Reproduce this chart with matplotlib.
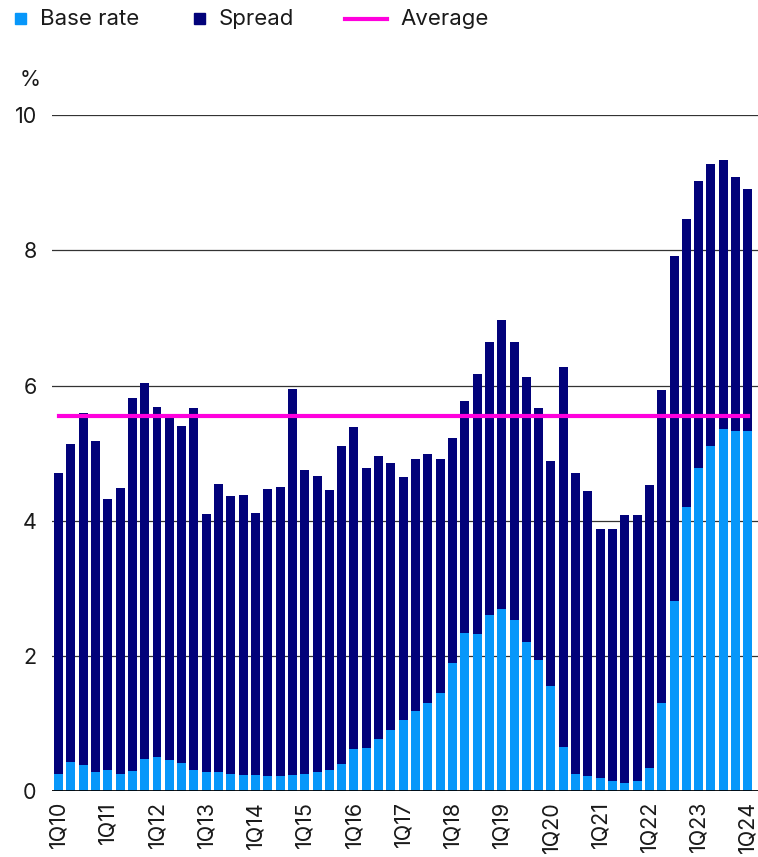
import numpy as np
import matplotlib
matplotlib.use("Agg")
import matplotlib.pyplot as plt
from matplotlib.patches import Rectangle
from matplotlib.lines import Line2D

plt.rcParams['font.family'] = ['Inter', 'DejaVu Sans']

# quarters 1Q10 .. 1Q24
quarters = [f"{q}Q{y:02d}" for y in range(10, 25) for q in range(1, 5)][:57]

base_rate = [0.26, 0.43, 0.39, 0.29, 0.32, 0.26, 0.30, 0.48, 0.51, 0.46,
             0.42, 0.32, 0.29, 0.29, 0.26, 0.24, 0.24, 0.23, 0.23, 0.24,
             0.26, 0.29, 0.32, 0.40, 0.63, 0.64, 0.77, 0.91, 1.05, 1.19,
             1.31, 1.45, 1.90, 2.34, 2.33, 2.61, 2.70, 2.53, 2.21, 1.94,
             1.56, 0.66, 0.25, 0.22, 0.20, 0.15, 0.12, 0.15, 0.34, 1.30,
             2.81, 4.21, 4.78, 5.11, 5.36, 5.33, 5.33]

spread = [4.44, 4.70, 5.20, 4.89, 4.00, 4.22, 5.51, 5.55, 5.17, 5.12,
          4.98, 5.35, 3.81, 4.25, 4.10, 4.14, 3.87, 4.24, 4.27, 5.71,
          4.49, 4.37, 4.13, 4.70, 4.75, 4.14, 4.19, 3.94, 3.60, 3.72,
          3.68, 3.46, 3.32, 3.43, 3.84, 4.03, 4.27, 4.12, 3.91, 3.73,
          3.33, 5.62, 4.45, 4.22, 3.68, 3.73, 3.96, 3.93, 4.19, 4.63,
          5.10, 4.25, 4.24, 4.16, 3.97, 3.76, 3.58]

average = 5.55

base_color = '#0797FA'
spread_color = '#02027A'
avg_color = '#FF00DD'
fs = 15.5

fig = plt.figure(figsize=(7.58, 8.57), dpi=100)
ax = fig.add_axes([0.0686, 0.0767, 0.9314, 0.7891])

x = np.arange(len(quarters))
ax.bar(x, base_rate, width=0.73, color=base_color, zorder=2)
ax.bar(x, spread, width=0.73, bottom=base_rate, color=spread_color, zorder=2)
ax.plot([x[0], x[-1]], [average, average], color=avg_color, lw=3, zorder=3)

ax.set_xlim(-0.53, 56.82)
ax.set_ylim(0, 10)
ax.set_yticks([0, 2, 4, 6, 8, 10])
ax.set_yticklabels(['0', '2', '4', '6', '8', '10'])
for yv in [2, 4, 6, 8, 10]:
    ax.axhline(yv, color='#333333', lw=0.9, zorder=1)
ax.axhline(0, color='black', lw=2, zorder=4)

ax.set_xticks(x[::4])
ax.set_xticklabels(quarters[::4], rotation=90, va='top', ha='center')
for s in ax.spines.values():
    s.set_visible(False)
ax.tick_params(axis='both', length=0, labelsize=fs, colors='#1a1a1a')
ax.tick_params(axis='x', pad=7)
ax.tick_params(axis='y', pad=11)

fig.text(30 / 758, 1 - 80 / 857, '%', fontsize=fs, ha='center', va='center', color='#1a1a1a')

# legend drawn by hand
def px(xp, yp):
    return xp / 758, 1 - yp / 857

lfs = 16
fig.patches.append(Rectangle(px(15, 24), 11 / 758, 11 / 857, color=base_color, transform=fig.transFigure))
fig.text(*px(40, 19), 'Base rate', fontsize=lfs, va='center', color='#1a1a1a')
fig.patches.append(Rectangle(px(194, 24), 11 / 758, 11 / 857, color=spread_color, transform=fig.transFigure))
fig.text(*px(219, 19), 'Spread', fontsize=lfs, va='center', color='#1a1a1a')
fig.lines.append(Line2D([345 / 758, 387 / 758], [1 - 19 / 857] * 2, color=avg_color, lw=3, transform=fig.transFigure))
fig.text(*px(400, 19), 'Average', fontsize=lfs, va='center', color='#1a1a1a')

fig.savefig('out.png', dpi=100)
